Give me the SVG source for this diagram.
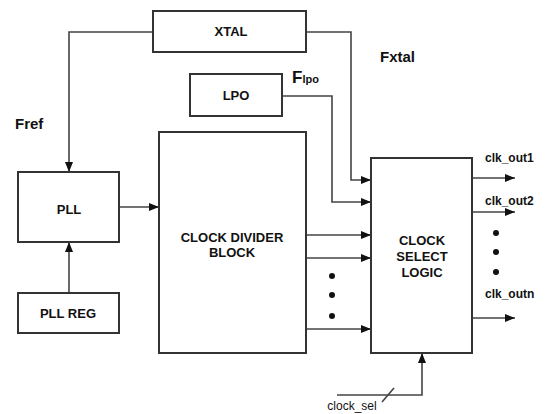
<svg xmlns="http://www.w3.org/2000/svg" width="545" height="414" viewBox="0 0 545 414">
<style>
.box{fill:#fff;stroke:#333;stroke-width:2}
.t{font-family:"Liberation Sans",Arial,sans-serif;font-weight:bold;font-size:13px;fill:#111;text-anchor:middle}
.lbl{font-family:"Liberation Sans",Arial,sans-serif;font-weight:bold;font-size:12px;fill:#111}
.big{font-family:"Liberation Sans",Arial,sans-serif;font-weight:bold;font-size:15px;fill:#111}
.w{fill:none;stroke:#444;stroke-width:1.6}
.dot{fill:#111}
</style>
<defs>
<marker id="ar" markerWidth="10" markerHeight="8" refX="10" refY="4" orient="auto" markerUnits="userSpaceOnUse">
<path d="M0,0 L10,4 L0,8 Z" fill="#111"/>
</marker>
</defs>
<g id="connectors">
<path class="w" d="M160,32 H69 V172" marker-end="url(#ar)"/>
<path class="w" d="M307,32 H351 V180 H371" marker-end="url(#ar)"/>
<path class="w" d="M282,96 H332 V202 H371" marker-end="url(#ar)"/>
<path class="w" d="M69,293 V242" marker-end="url(#ar)"/>
<path class="w" d="M119,207 H159" marker-end="url(#ar)"/>
<path class="w" d="M306,235 H371" marker-end="url(#ar)"/>
<path class="w" d="M306,258 H371" marker-end="url(#ar)"/>
<path class="w" d="M306,329 H371" marker-end="url(#ar)"/>
<path class="w" d="M472,178 H515" marker-end="url(#ar)"/>
<path class="w" d="M472,212 H515" marker-end="url(#ar)"/>
<path class="w" d="M472,318 H515" marker-end="url(#ar)"/>
<path class="w" d="M337,395 H422 V353" marker-end="url(#ar)"/>
<path class="w" d="M382,402 L394,388"/>
</g>
<g id="xtal"><rect class="box" x="153" y="11" width="153" height="41"/><text class="t" x="231" y="36">XTAL</text></g>
<g id="lpo"><rect class="box" x="190" y="74" width="92" height="42"/><text class="t" x="236" y="100">LPO</text></g>
<g id="pll"><rect class="box" x="18" y="172" width="101" height="70"/><text class="t" x="69" y="214">PLL</text></g>
<g id="pllreg"><rect class="box" x="18" y="293" width="101" height="40"/><text class="t" x="68" y="318">PLL REG</text></g>
<g id="cdb"><rect class="box" x="159" y="132" width="147" height="221"/><text class="t" x="232" y="242">CLOCK DIVIDER</text><text class="t" x="232" y="257">BLOCK</text></g>
<g id="csl"><rect class="box" x="371" y="158" width="101" height="195"/><text class="t" x="422" y="245">CLOCK</text><text class="t" x="422" y="261">SELECT</text><text class="t" x="422" y="277">LOGIC</text></g>
<g id="labels">
<text class="big" x="15" y="129">Fref</text>
<text class="big" x="380" y="62">Fxtal</text>
<text class="big" x="292" y="83" style="font-size:17px">F<tspan style="font-size:11px">lpo</tspan></text>
<text class="lbl" x="485" y="162">clk_out1</text>
<text class="lbl" x="485" y="205">clk_out2</text>
<text class="lbl" x="485" y="298">clk_outn</text>
<text class="lbl" x="352" y="410" text-anchor="middle" style="font-weight:normal">clock_sel</text>
</g>
<g id="dots">
<circle class="dot" cx="332" cy="276" r="3"/><circle class="dot" cx="332" cy="295" r="3"/><circle class="dot" cx="332" cy="316" r="3"/>
<circle class="dot" cx="496" cy="233" r="3"/><circle class="dot" cx="496" cy="252" r="3"/><circle class="dot" cx="496" cy="272" r="3"/>
</g>
</svg>
